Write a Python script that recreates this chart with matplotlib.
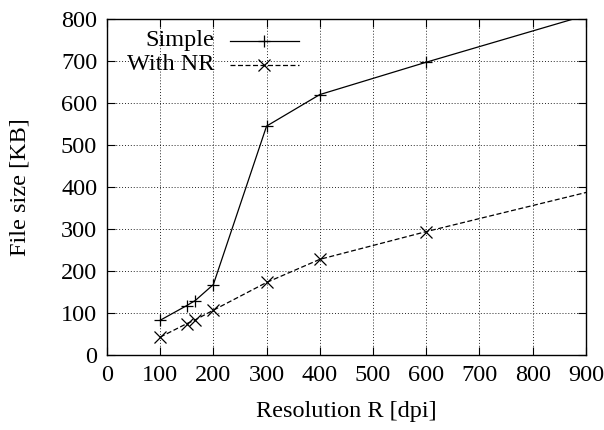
import matplotlib
matplotlib.use("Agg")
import matplotlib.pyplot as plt

plt.rcParams["font.family"] = ["Liberation Serif", "DejaVu Serif"]
plt.rcParams["font.size"] = 17.5

# ----- Data ---------------------------------------------------------------
# last point (1200 dpi) lies outside the plotted range; only its line shows
resolution = [100, 150, 166, 200, 300, 400, 600, 1200]
size_simple = [83, 118, 130, 168, 545, 620, 697, 920]
size_nr = [43, 75, 84, 107, 173, 228, 294, 480]

series = [
    ("Simple", size_simple, "-", "+"),
    ("With NR", size_nr, (0, (4, 2)), "x"),
]

# ----- Plot ---------------------------------------------------------------
fig = plt.figure(figsize=(6.04, 4.30), dpi=100)
ax = fig.add_axes([0.177, 0.174, 0.793, 0.782])

for label, vals, ls, mk in series:
    ax.plot(resolution, vals, color="black", lw=0.9, linestyle=ls,
            marker=mk, markersize=8, markeredgewidth=0.9)

ax.set_xlim(0, 900)
ax.set_ylim(0, 800)
ax.set_xticks(range(0, 901, 100))
ax.set_yticks(range(0, 801, 100))
ax.grid(True, color="black", linestyle=(0, (1, 2)), lw=0.7, alpha=0.85)
ax.tick_params(direction="in", length=6, width=0.8, top=True, right=True,
               pad=7)
for s in ax.spines.values():
    s.set_linewidth(1.0)

ax.set_xlabel("Resolution R [dpi]", labelpad=11)
ax.set_ylabel("File size [KB]", labelpad=22)

# gnuplot-style key: right-aligned text, sample line to its right
for i, (label, vals, ls, mk) in enumerate(series):
    y = 0.935 - i * 0.072
    ax.text(0.225, y, label, transform=ax.transAxes, ha="right",
            va="center")
    ax.plot([0.257, 0.401], [y, y], transform=ax.transAxes, color="black",
            lw=0.9, linestyle=ls)
    ax.plot([0.329], [y], transform=ax.transAxes, color="black",
            marker=mk, markersize=8, markeredgewidth=0.9)

fig.savefig("out.png", dpi=100)
